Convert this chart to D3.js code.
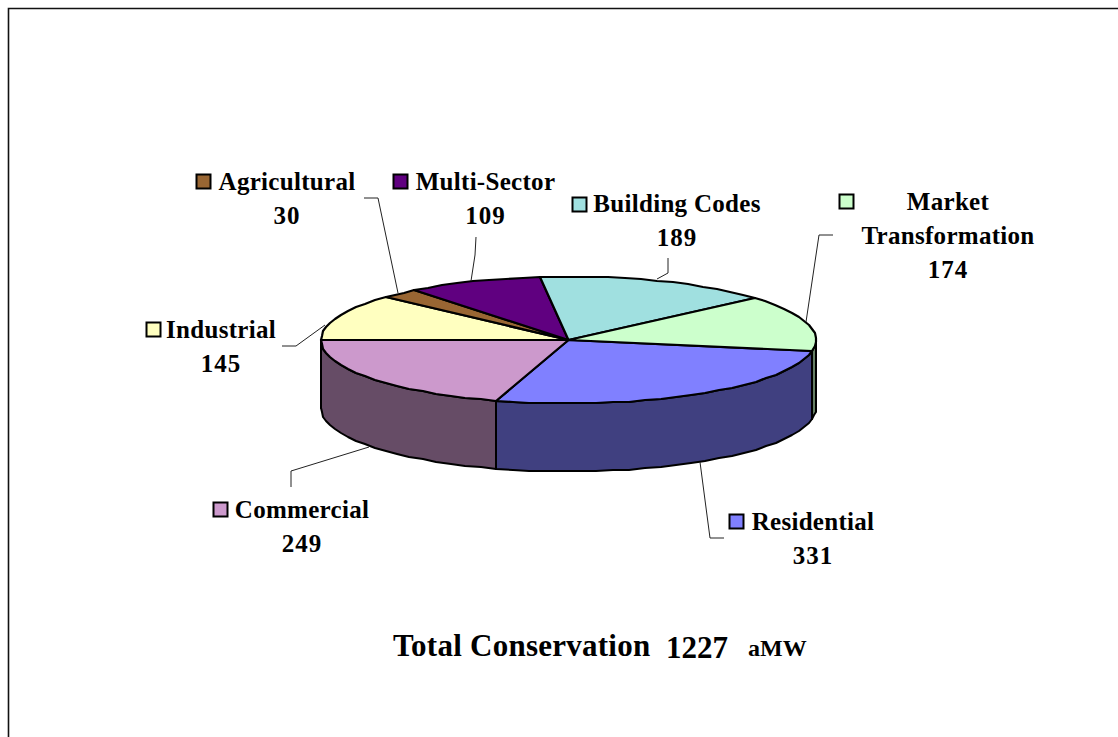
<!DOCTYPE html>
<html><head><meta charset="utf-8">
<script src="https://cdn.jsdelivr.net/npm/d3@7"></script>
<style>html,body{margin:0;padding:0;background:#fff}svg{display:block}
text{font-family:"Liberation Serif",serif;font-weight:bold;fill:#000}</style>
</head><body><svg id="c" width="1118" height="737"></svg>
<script>
const categories = ["Residential","Commercial","Industrial","Agricultural","Multi-Sector","Building Codes","Market Transformation"];
const values = [331,249,145,30,109,189,174];
const topColors = ["#8080ff","#cc99cc","#ffffc0","#996633","#600080","#a0e0e0","#ccffcc"];
const sideColors = ["#404080","#664c66","#808060","#4c3319","#300040","#507070","#668066"];
const labelLines = [["Residential"],["Commercial"],["Industrial"],["Agricultural"],["Multi-Sector"],["Building Codes"],["Market","Transformation"]];

const labelLayout = [
 {cx:813,y:530,sw:[729,514],lead:[[700,462],[710,538],[724,538]]},
 {cx:302,y:518,sw:[213,502],lead:[[369,447],[291,471],[291,487]]},
 {cx:221,y:338,sw:[146,322],lead:[[325,325],[296,346],[282,346]]},
 {cx:287,y:190,sw:[196,174],lead:[[398,293],[378,198],[364,198]]},
 {cx:485.5,y:190,sw:[393,174],lead:[[471,281],[475,255],[476,237]]},
 {cx:677,y:212,sw:[572,197],lead:[[657,279],[668,273],[668,258]]},
 {cx:948,y:210,sw:[839,194],lead:[[806,322],[819,235],[833,235]]}
];

const svg = d3.select("#c");
const cx=568.5, cy=340, rx=247.5, ry=63.5, depth=68;
const project=(t,dy=0)=>[Math.round(cx+rx*Math.cos(t)), Math.round(cy+ry*Math.sin(t)+dy)];
const line=d3.line();
const step=Math.PI/45;
const samples=(a,b)=>{const n=Math.max(1,Math.ceil((b-a)/step));return d3.range(n+1).map(i=>a+(b-a)*i/n);};

const start=99.8*Math.PI/180;
const pie=d3.pie().sort(null).startAngle(start).endAngle(start+2*Math.PI);
const arcs=pie(values).map((d,i)=>({i,a:d.startAngle-Math.PI/2,b:d.endAngle-Math.PI/2}));

// page frame: only top and left edges fall inside the picture
svg.append("path").attr("d","M8.5,737V8.5H1118").attr("fill","none").attr("stroke","#111").attr("stroke-width",1.6);

// side wall
const T=2*Math.PI;
const sideParts=[];
arcs.forEach(d=>{[0,T].forEach(o=>{
  const a=Math.max(d.a,o), b=Math.min(d.b,o+Math.PI);
  if(b>a) sideParts.push({i:d.i,a,b});
});});
svg.append("g").selectAll("path").data(sideParts).join("path")
 .attr("d",d=>{
   const s=samples(d.a,d.b);
   return line(s.map(t=>project(t)).concat(s.slice().reverse().map(t=>project(t,depth))))+"Z";
 })
 .attr("fill",d=>sideColors[d.i]).attr("stroke","#000").attr("stroke-width",2).attr("stroke-linejoin","round");

// top face
svg.append("g").selectAll("path").data(arcs).join("path")
 .attr("d",d=>line([[cx,cy]].concat(samples(d.a,d.b).map(t=>project(t))))+"Z")
 .attr("fill",d=>topColors[d.i]).attr("stroke","#000").attr("stroke-width",2.2).attr("stroke-linejoin","round");

// leader lines
svg.append("g").selectAll("path").data(labelLayout).join("path")
 .attr("d",d=>line(d.lead)).attr("fill","none").attr("stroke","#222").attr("stroke-width",1);

// labels
const g=svg.append("g").selectAll("g").data(categories).join("g");
g.append("rect")
 .attr("x",(d,i)=>labelLayout[i].sw[0]+0.5).attr("y",(d,i)=>labelLayout[i].sw[1]+0.5)
 .attr("width",14).attr("height",14)
 .attr("fill",(d,i)=>topColors[i]).attr("stroke","#000").attr("stroke-width",2);
g.each(function(d,i){
  const L=labelLayout[i], sel=d3.select(this), ls=labelLines[i].concat(String(values[i]));
  ls.forEach((t,k)=>{
    const isVal=k===ls.length-1;
    sel.append("text").attr("x",L.cx).attr("y",L.y+k*(isVal&&ls.length===2?33.5:34)).attr("text-anchor","middle")
      .attr("font-size",25).attr("letter-spacing",isVal?1:0.3).text(t);
  });
});

svg.append("text").attr("x",393).attr("y",656).attr("font-size",31).attr("letter-spacing",0.25).text("Total Conservation");
svg.append("text").attr("x",666).attr("y",658).attr("font-size",31).text("1227");
svg.append("text").attr("x",748).attr("y",656).attr("font-size",24).text("aMW");
</script></body></html>
